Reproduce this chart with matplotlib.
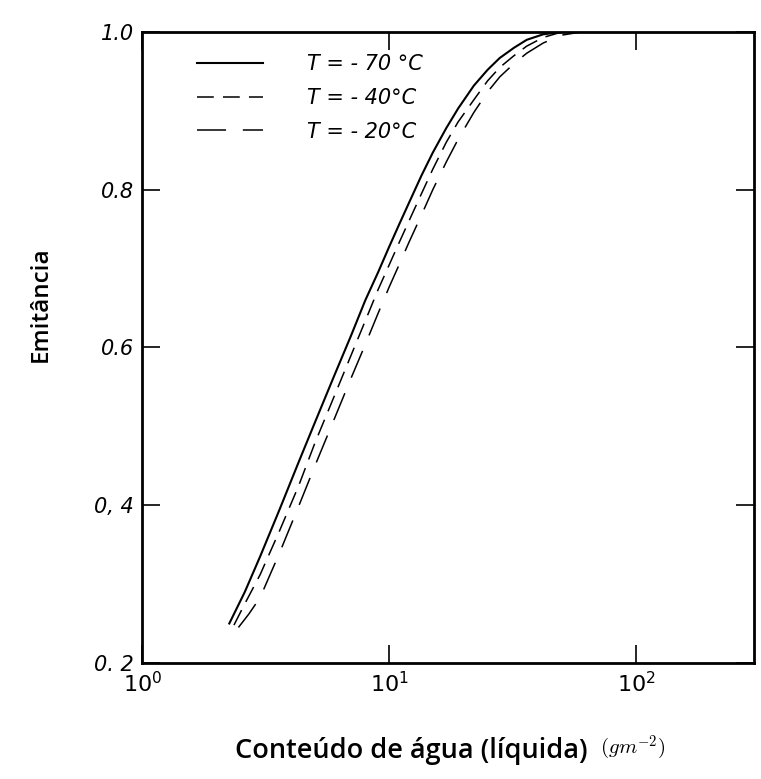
import matplotlib
matplotlib.use("Agg")
import numpy as np
import matplotlib.pyplot as plt

# water content (g m^-2) and emittance
w_70 = [2.25, 2.6, 3.0, 3.6, 4.3, 5.0, 6.0, 7.0, 8.0, 9.0, 10, 11, 12, 13.5, 15, 17, 19, 22, 25, 28, 32, 36, 42, 50, 60]
e_70 = [0.250, 0.290, 0.335, 0.395, 0.455, 0.505, 0.565, 0.615, 0.660, 0.695, 0.728, 0.757, 0.783,
        0.818, 0.847, 0.878, 0.903, 0.932, 0.952, 0.967, 0.980, 0.990, 0.997, 1.0, 1.0]

w_40 = [2.35, 2.6, 3.0, 3.6, 4.3, 5.0, 6.0, 7.0, 8.0, 9.0, 10, 11, 12, 13.5, 15, 17, 19, 22, 25, 28, 32, 36, 42, 50, 60]
e_40 = [0.248, 0.275, 0.312, 0.368, 0.425, 0.479, 0.539, 0.590, 0.634, 0.673, 0.705, 0.734, 0.760,
        0.795, 0.826, 0.860, 0.886, 0.914, 0.938, 0.955, 0.970, 0.982, 0.993, 1.0, 1.0]

w_20 = [2.45, 2.7, 3.0, 3.6, 4.3, 5.0, 6.0, 7.0, 8.0, 9.0, 10, 11, 12, 13.5, 15, 17, 19, 22, 25, 28, 32, 36, 42, 50, 60]
e_20 = [0.245, 0.262, 0.283, 0.340, 0.399, 0.450, 0.510, 0.561, 0.604, 0.643, 0.677, 0.706, 0.733,
        0.768, 0.800, 0.835, 0.864, 0.898, 0.924, 0.943, 0.960, 0.973, 0.986, 0.996, 1.0]

labels = ["T = - 70 °C", "T = - 40°C", "T = - 20°C"]
styles = ["-", (0, (11, 6)), (0, (19, 11))]
widths = [1.5, 1.1, 1.1]

yticks = [0.2, 0.4, 0.6, 0.8, 1.0]
ytick_labels = ["0. 2", "0, 4", "0.6", "0.8", "1.0"]
xticks = [1, 10, 100]
xtick_labels = [r"$10^{0}$", r"$10^{1}$", r"$10^{2}$"]

plt.rcParams["mathtext.default"] = "it"

fig = plt.figure(figsize=(7.61, 7.79), dpi=100)
ax = fig.add_axes([0.187, 0.149, 0.804, 0.81])

for w, e, lab, ls, lw in zip([w_70, w_40, w_20], [e_70, e_40, e_20], labels, styles, widths):
    ax.plot(w, e, color="black", lw=lw, linestyle=ls, label=lab)

ax.set_xscale("log")
ax.set_xlim(1, 300)
ax.set_ylim(0.2, 1.0)

ax.set_xticks(xticks)
ax.set_xticklabels(xtick_labels, fontsize=16)
ax.xaxis.set_minor_locator(matplotlib.ticker.NullLocator())
ax.set_yticks(yticks)
ax.set_yticklabels(ytick_labels, fontsize=15, fontstyle="italic")

ax.tick_params(axis="both", which="major", direction="in", length=13, width=1.2,
               top=True, right=True, pad=6)

for s in ax.spines.values():
    s.set_linewidth(2)

leg = ax.legend(loc="upper left", bbox_to_anchor=(0.058, 0.995), frameon=False,
                handlelength=3.2, handletextpad=2.1, labelspacing=0.67,
                prop={"size": 15, "style": "italic"})

fig.text(0.053, 0.61, "Emitância", rotation=90, ha="center", va="center",
         fontsize=17.5, fontweight="semibold", family="Open Sans")
fig.text(0.54, 0.036, "Conteúdo de água (líquida)", ha="center", va="center",
         fontsize=19.5, fontweight="semibold", family="Open Sans")
t = fig.text(0.788, 0.04, r"$(gm^{-2})$", ha="left", va="center", fontsize=15)
t.set_math_fontfamily("cm")

fig.savefig("out.png", dpi=100)
